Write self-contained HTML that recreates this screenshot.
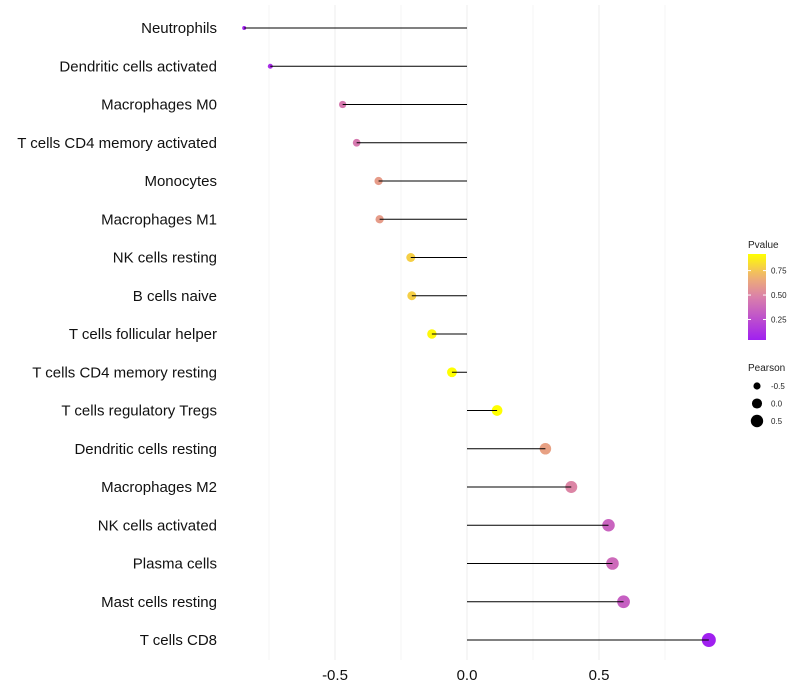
<!DOCTYPE html>
<html><head><meta charset="utf-8"><style>
body{margin:0;background:#fff;font-family:"Liberation Sans",sans-serif;}
</style></head><body>
<svg id="c" width="800" height="700" style="display:block"></svg>
<script>
const categories=["Neutrophils","Dendritic cells activated","Macrophages M0","T cells CD4 memory activated","Monocytes","Macrophages M1","NK cells resting","B cells naive","T cells follicular helper","T cells CD4 memory resting","T cells regulatory  Tregs ","Dendritic cells resting","Macrophages M2","NK cells activated","Plasma cells","Mast cells resting","T cells CD8"];
const pearson=[-0.844,-0.745,-0.471,-0.418,-0.335,-0.331,-0.213,-0.209,-0.133,-0.057,0.114,0.297,0.395,0.536,0.551,0.593,0.916];
const pvalues=[0.05,0.1,0.45,0.45,0.6,0.6,0.78,0.78,0.9,0.95,0.92,0.62,0.5,0.35,0.38,0.33,0.03];
const xTicks=[-0.5,0,0.5];
const xTickLabels=["-0.5","0.0","0.5"];
const xMinor=[-0.75,-0.25,0.25,0.75];
const cbTicks=[0.25,0.5,0.75];
const sizeLegend=[-0.5,0,0.5];

const NS="http://www.w3.org/2000/svg";
const svg=document.getElementById('c');
function el(t,a,p){const e=document.createElementNS(NS,t);for(const k in a)e.setAttribute(k,a[k]);(p||svg).appendChild(e);return e;}
const xs=v=>467+v*264;
const ys=i=>28+i*(640-28)/(categories.length-1);
const rs=v=>Math.sqrt(Math.max(1,25.5+25.6*v));
const stops=[[0,[160,32,240]],[0.5,[218,128,170]],[0.75,[240,180,110]],[1,[255,255,0]]];
function col(p){const t=Math.max(0,Math.min(1,(p-0.04)/(0.92-0.04)));
 for(let i=0;i<stops.length-1;i++){const[a,ca]=stops[i],[b,cb]=stops[i+1];if(t<=b){const f=(t-a)/(b-a);return `rgb(${ca.map((c,j)=>Math.round(c+(cb[j]-c)*f)).join(',')})`;}}return 'rgb(255,255,0)';}

xMinor.forEach(v=>{const g=el('line',{x1:xs(v),x2:xs(v),y1:5,y2:660,stroke:'#f6f6f6','stroke-width':1});
});
xTicks.forEach((v,i)=>{const g=el('line',{x1:xs(v),x2:xs(v),y1:5,y2:660,stroke:'#f1f1f1','stroke-width':1.2});

const t=el('text',{x:xs(v),y:680,'text-anchor':'middle','font-size':15,fill:'#111'});t.textContent=xTickLabels[i];
});

categories.forEach((c,i)=>{
 const y=ys(i);
 const t=el('text',{x:217,y:y+5,'text-anchor':'end','font-size':15,fill:'#111'});t.textContent=c;
 t.setAttribute('xml:space','preserve');
 
 const d=el('circle',{cx:xs(pearson[i]),cy:y,r:rs(pearson[i]),fill:col(pvalues[i])});
 
 const l=el('line',{x1:xs(0),x2:xs(pearson[i]),y1:y,y2:y,stroke:'#000','stroke-width':1});
 
});

const lt=el('text',{x:748,y:248,'font-size':10,fill:'#222'});lt.textContent='Pvalue';

const defs=el('defs',{});const gr=el('linearGradient',{id:'g',x1:0,y1:1,x2:0,y2:0},defs);
for(let k=0;k<=10;k++){el('stop',{offset:k/10,'stop-color':col(0.04+k/10*0.88)},gr);}
const cbar=el('rect',{x:748,y:254,width:18,height:86,fill:'url(#g)'});

const cy=p=>340-(p-0.04)/(0.92-0.04)*86;
cbTicks.forEach(p=>{el('line',{x1:748,x2:751,y1:cy(p),y2:cy(p),stroke:'#fff'});el('line',{x1:763,x2:766,y1:cy(p),y2:cy(p),stroke:'#fff'});
 const t=el('text',{x:771,y:cy(p)+3,'font-size':8,fill:'#222'});t.textContent=p.toFixed(2);
 });

const st=el('text',{x:748,y:371,'font-size':10,fill:'#222'});st.textContent='Pearson';

sizeLegend.forEach((v,i)=>{const y=386+i*17.5;
 const d=el('circle',{cx:757,cy:y,r:rs(v),fill:'#000'});
 const t=el('text',{x:771,y:y+3,'font-size':8,fill:'#222'});t.textContent=v.toFixed(1);
 });
</script>
</body></html>
